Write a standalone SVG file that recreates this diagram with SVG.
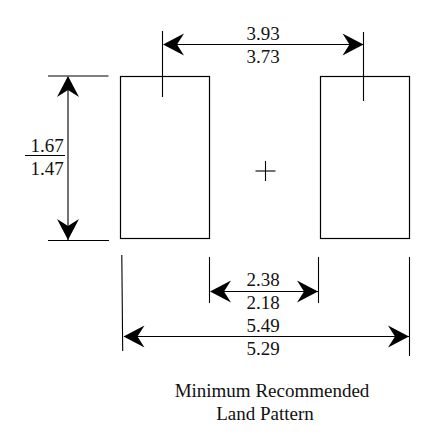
<svg xmlns="http://www.w3.org/2000/svg" width="437" height="441" viewBox="0 0 437 441">
<style>
.l{stroke:#000;stroke-width:1.1;fill:none}
.p{stroke:#000;stroke-width:1.2;fill:#fff}
.a{fill:#000;stroke:none}
text{font-family:"Liberation Serif","Times New Roman",serif;font-size:19px;fill:#111;text-anchor:middle}
</style>
<defs>
<path id="ah" class="a" d="M0 0L-21-11L-14 0L-21 11Z"/>
</defs>
<rect width="437" height="441" fill="#fff"/>
<g id="pad-left"><rect class="p" x="120.500" y="76.500" width="89" height="162"/></g>
<g id="pad-right"><rect class="p" x="320.500" y="76.500" width="89" height="162"/></g>
<g id="center-mark"><path class="l" d="M255.500 171H275.500" stroke-width="1.400"/><path class="l" d="M265.500 161V181"/></g>
<g id="connectors">
<path class="l" d="M162.500 31V97M363.500 32V101M164 44.500H363"/>
<use href="#ah" transform="translate(163,44.500) rotate(180)"/>
<use href="#ah" transform="translate(363.500,44.500)"/>
<path class="l" d="M48 76H108.500M48 240.500H109M68 77V240"/>
<use href="#ah" transform="translate(68,76) rotate(-90)"/>
<use href="#ah" transform="translate(68,240) rotate(90)"/>
<path class="l" d="M25 155.500H65" stroke-width="1.400"/>
<path class="l" d="M209.500 257V303M318.500 257V303M211 291.500H318"/>
<use href="#ah" transform="translate(210,291.500) rotate(180)"/>
<use href="#ah" transform="translate(318,291.500)"/>
<path class="l" d="M121.800 255L122.700 351M409.500 257V356M124 336.500H409"/>
<use href="#ah" transform="translate(123.500,336.500) rotate(180)"/>
<use href="#ah" transform="translate(409,336.500)"/>
</g>
<g id="labels">
<text x="263" y="40">3.93</text>
<text x="263" y="63">3.73</text>
<text x="47" y="152">1.67</text>
<text x="47" y="175">1.47</text>
<text x="263" y="286">2.38</text>
<text x="263" y="309">2.18</text>
<text x="263" y="332">5.49</text>
<text x="263" y="355">5.29</text>
<text x="272" y="396.500">Minimum Recommended</text>
<text x="265" y="419.500">Land Pattern</text>
</g>
</svg>
